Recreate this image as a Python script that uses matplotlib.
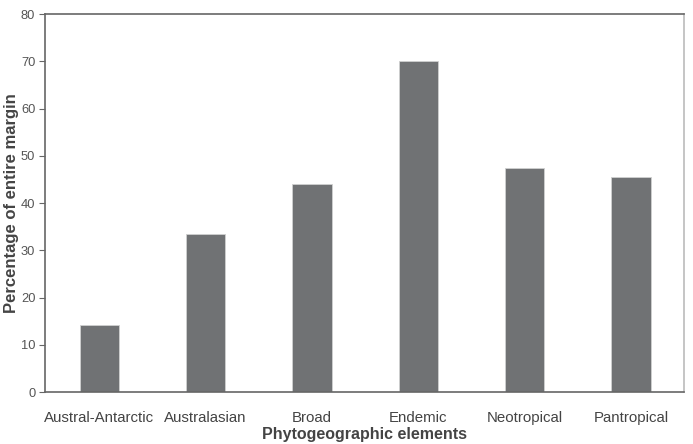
import matplotlib.pyplot as plt
import numpy as np

# data
categories = ['Austral-Antarctic', 'Australasian', 'Broad', 'Endemic', 'Neotropical', 'Pantropical']
percent = [14.2, 33.4, 44.0, 70.0, 47.5, 45.5]
yticks = [0, 10, 20, 30, 40, 50, 60, 70, 80]

plt.rcParams['font.family'] = ['Liberation Sans', 'DejaVu Sans']

fig = plt.figure(figsize=(6.93, 4.44), dpi=100)
ax = fig.add_axes([0.065, 0.117, 0.922, 0.851])

x = np.arange(len(categories))
ax.bar(x, percent, width=0.37, color='#707274', edgecolor='#d0d0d0', linewidth=0.6, zorder=2)

ax.set_xlim(-0.51, 5.5)
ax.set_ylim(0, 80)
ax.set_yticks(yticks)
ax.set_xticks(x)
ax.set_xticklabels(categories, fontsize=10.8, color='#444444')
ax.tick_params(axis='x', length=0, pad=14)
ax.tick_params(axis='y', length=4, width=0.8, color='#666666', labelsize=9.3, labelcolor='#555555', pad=3)

for side in ['left', 'bottom', 'top']:
    ax.spines[side].set_color('#666666')
    ax.spines[side].set_linewidth(1.2)
ax.spines['right'].set_color('#bbbbbb')
ax.spines['right'].set_linewidth(1.2)

ax.set_ylabel('Percentage of entire margin', fontsize=12, fontweight='bold', color='#444444', labelpad=1)
ax.set_xlabel('Phytogeographic elements', fontsize=11.5, fontweight='bold', color='#444444', labelpad=1)

fig.savefig('out.png', dpi=100)
